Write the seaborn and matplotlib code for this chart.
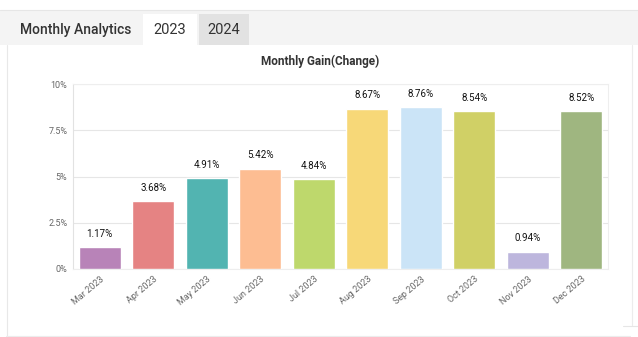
import matplotlib
matplotlib.use("Agg")
import matplotlib.pyplot as plt
from matplotlib.patches import Rectangle
from matplotlib.lines import Line2D
import seaborn as sns
import pandas as pd

months = ["Mar 2023", "Apr 2023", "May 2023", "Jun 2023", "Jul 2023",
          "Aug 2023", "Sep 2023", "Oct 2023", "Nov 2023", "Dec 2023"]
gains = [1.17, 3.68, 4.91, 5.42, 4.84, 8.67, 8.76, 8.54, 0.94, 8.52]
bar_colors = ["#b883b8", "#e58383", "#52b4b1", "#fdbd92", "#bed86c",
              "#f7d878", "#cbe4f7", "#d0d066", "#bdb6dd", "#9fb680"]
y_ticks = [0, 2.5, 5, 7.5, 10]
y_tick_labels = ["0%", "2.5%", "5%", "7.5%", "10%"]

df = pd.DataFrame({"month": months, "gain": gains})

sns.set_theme(style="white")
plt.rcParams["font.family"] = ["Roboto", "DejaVu Sans"]

W, H = 638, 337
fig = plt.figure(figsize=(W / 100, H / 100), dpi=100)
fig.patch.set_facecolor("white")


def px_rect(x0, y0, x1, y1, **kw):
    fig.patches.append(Rectangle((x0 / W, 1 - y1 / H), (x1 - x0) / W, (y1 - y0) / H,
                                 transform=fig.transFigure, **kw))


def px_line(xs, ys, **kw):
    fig.lines.append(Line2D([x / W for x in xs], [1 - y / H for y in ys],
                            transform=fig.transFigure, **kw))


# tab bar
px_rect(0, 10, W, 45, facecolor="#f4f4f4", edgecolor="none", zorder=0)
px_line([0, W], [9.5, 9.5], color="#e6e6e6", lw=0.8)
px_rect(143, 14, 197, 45, facecolor="white", edgecolor="none", zorder=1)
px_rect(199, 14, 249, 45, facecolor="#e2e2e2", edgecolor="none", zorder=1)
fig.text(20 / W, 1 - 30 / H, "Monthly Analytics", fontsize=10, color="#333333",
         fontweight="medium", va="center", ha="left")
fig.text(170 / W, 1 - 30 / H, "2023", fontsize=10.5, color="#333333", va="center", ha="center")
fig.text(224 / W, 1 - 30 / H, "2024", fontsize=10.5, color="#333333", va="center", ha="center")

# panel borders
px_line([6.5, 6.5], [45, H], color="#e8e8e8", lw=0.8)
px_line([632, 632], [45, 325], color="#ececec", lw=0.8)
px_line([6, 630], [335.5, 335.5], color="#ececec", lw=0.8)
px_line([623, W], [326, 326], color="#e6e6e6", lw=0.8)

fig.text(320 / W, 1 - 61 / H, "Monthly Gain(Change)", fontsize=8.5, fontweight="bold",
         color="#333333", ha="center", va="center")

ax = fig.add_axes([73 / W, 1 - 269 / H, (608 - 73) / W, (269 - 84) / H])
sns.barplot(data=df, x="month", y="gain", hue="month", palette=bar_colors,
            legend=False, width=0.78, saturation=1, ax=ax, zorder=3)

ax.set_ylim(0, 10)
ax.set_xlim(-0.5, len(months) - 0.5)
ax.set_yticks(y_ticks)
ax.set_yticklabels(y_tick_labels)
ax.set_xlabel("")
ax.set_ylabel("")
ax.grid(axis="y", color="#e6e6e6", lw=0.8, zorder=0)
ax.set_axisbelow(True)
for side in ["top", "right", "bottom"]:
    ax.spines[side].set_color("#eeeeee")
    ax.spines[side].set_linewidth(0.8)
ax.spines["left"].set_color("#e2e2e2")
ax.spines["left"].set_linewidth(0.8)
ax.tick_params(axis="y", length=0, labelsize=6.5, labelcolor="#666666", pad=4)
ax.tick_params(axis="x", length=0, labelsize=6.5, labelcolor="#666666", pad=4)
for lbl in ax.get_xticklabels():
    lbl.set_rotation(40)
    lbl.set_ha("right")
    lbl.set_rotation_mode("anchor")

for i, v in enumerate(gains):
    ax.annotate(f"{v:.2f}%", (i, v), xytext=(0, 6), textcoords="offset points",
                ha="center", va="bottom", fontsize=7, color="#111111")

fig.savefig("out.png", dpi=100)
